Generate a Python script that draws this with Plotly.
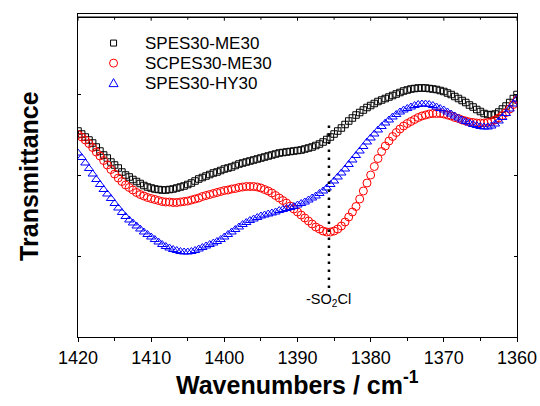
import plotly.graph_objects as go

# Wavenumbers (cm-1), 1420 -> 1360 in 0.5 steps
wavenumbers = [1420 - 0.5 * i for i in range(121)]

# Transmittance (arbitrary units)
spes30_me30 = [
    206,
    203, 200, 197, 194,
    190, 186, 182, 179,
    175, 172, 169, 165,
    162, 160, 157.5, 155.5,
    153.5, 151.5, 150, 149,
    148, 147.5, 147, 147,
    147.5, 148, 149, 150,
    151, 152.5, 154, 156,
    158, 159.5, 161, 162.5,
    164, 165, 166.5, 168,
    169, 170, 171.5, 173,
    174, 175, 176, 177,
    178, 179, 180, 181,
    182, 183, 184, 184.5,
    185, 185.5, 186, 186.5,
    187, 188, 189, 190,
    191.5, 193, 195, 197.5,
    200, 203, 206, 209,
    212.5, 216, 219, 222,
    224.5, 227, 229.5, 231.5,
    233.5, 235.5, 237, 238.5,
    240, 241.5, 243, 244.5,
    246, 247, 248, 248.5,
    249, 249, 249, 248.5,
    248, 247.5, 246.5, 245.5,
    244, 242.5, 240.5, 238.5,
    236.5, 234.5, 232, 230,
    227.5, 225.5, 223.5, 222.5,
    222, 223, 225, 228,
    231, 234.5, 238.5, 242.5,
]

scpes30_me30 = [
    202.5,
    200, 197, 193.5, 189.5,
    185, 181, 176.5, 172,
    167.5, 163, 159, 155.5,
    152, 149.5, 147, 144.5,
    142.5, 141, 139.5, 138.5,
    137.5, 136.5, 135.5, 135,
    135, 134.5, 134.5, 135,
    135.5, 136, 137, 138,
    139, 140.5, 141.5, 142.5,
    143.5, 144.5, 145.5, 146.5,
    147, 148, 148.5, 149.5,
    150, 150.5, 150.5, 150.5,
    150, 149, 147.5, 146,
    144, 141.5, 139, 136.5,
    134, 131, 128, 125,
    122, 119, 116, 113,
    110, 108, 106, 105,
    105, 106, 108, 111,
    115, 120, 125, 130.5,
    138, 146, 154, 162,
    170.5, 178.5, 185.5, 191,
    196, 200.5, 204.5, 208,
    211, 213.5, 215.5, 217.5,
    219.5, 221, 222, 223,
    223.5, 223.5, 223.5, 223,
    222, 221, 219.5, 218.5,
    217, 216, 215, 214.5,
    214, 214, 214, 214.5,
    215.5, 217, 219, 221.5,
    224.5, 228, 232.5, 237,
]

spes30_hy30 = [
    184,
    179.5, 174, 168.5, 163,
    157.5, 152.5, 147.5, 143,
    138.5, 133.5, 129, 124.5,
    120.5, 117, 114, 111,
    108, 105, 102.5, 100,
    97.5, 95, 92.5, 90.5,
    89, 87.5, 86.5, 85.5,
    85, 85, 85.5, 86.5,
    88, 89.5, 91, 92.5,
    94, 95.5, 97.5, 100,
    102.5, 105, 107.5, 110,
    112.5, 114.5, 116.5, 118,
    119.5, 121, 122, 123,
    124, 125, 126.5, 127.5,
    128.5, 129.5, 130.5, 132,
    133.5, 135, 137, 139,
    141, 143.5, 146, 149,
    152.5, 156, 160, 164,
    168, 172.5, 177, 181.5,
    186, 190.5, 195, 199,
    203, 207, 210.5, 214,
    217, 220, 222.5, 225,
    227, 228.5, 230, 231.5,
    232.5, 233, 233, 232.5,
    231.5, 230, 228.5, 227,
    225, 223, 221, 219,
    217, 215.5, 214, 212.5,
    211.5, 210.5, 210, 210,
    211, 213, 216, 219.5,
    223.5, 228, 233, 238,
]

series_names = ["SPES30-ME30", "SCPES30-ME30", "SPES30-HY30"]
series_colors = ["black", "#ff0000", "#0000ff"]
x_ticks = [1420, 1410, 1400, 1390, 1380, 1370, 1360]
x_minor = [1415, 1405, 1395, 1385, 1375, 1365]
band_position = 1385.7
band_label = "-SO<sub>2</sub>Cl"

FONT = "Liberation Sans, Arial, sans-serif"

fig = go.Figure()
fig.add_trace(go.Scatter(
    x=wavenumbers, y=spes30_me30, name=series_names[0], mode="markers",
    marker=dict(symbol="square-open", size=6.5, color=series_colors[0], line=dict(width=1)),
))
fig.add_trace(go.Scatter(
    x=wavenumbers, y=scpes30_me30, name=series_names[1], mode="markers",
    marker=dict(symbol="circle-open", size=8, color=series_colors[1], line=dict(width=1)),
))
fig.add_trace(go.Scatter(
    x=wavenumbers, y=spes30_hy30, name=series_names[2], mode="markers",
    marker=dict(symbol="triangle-up-open", size=8, color=series_colors[2], line=dict(width=1)),
))

# top frame line with inward ticks, drawn as shapes
fig.add_shape(type="line", xref="paper", yref="paper", x0=0, x1=1, y0=0.99, y1=0.99,
              line=dict(color="black", width=1.3), layer="above")
for tv in x_ticks:
    fig.add_shape(type="line", xref="x", yref="paper", ysizemode="pixel", yanchor=0.99,
                  x0=tv, x1=tv, y0=0, y1=-3.5, line=dict(color="black", width=1))
for tv in x_minor:
    fig.add_shape(type="line", xref="x", yref="paper", ysizemode="pixel", yanchor=0.99,
                  x0=tv, x1=tv, y0=0, y1=-2.5, line=dict(color="black", width=1))

# dotted marker line for the -SO2Cl band
fig.add_shape(type="line", xref="x", yref="y",
              x0=band_position, x1=band_position, y0=49, y1=214,
              line=dict(color="black", width=2.5, dash="2.5px,5.5px"))
fig.add_annotation(x=band_position, y=37, xref="x", yref="y", text=band_label,
                   showarrow=False, font=dict(family=FONT, size=14.5, color="black"))

# legend drawn by hand (compact row spacing like the reference)
leg_sym_x = 0.081
leg_txt_x = 0.149
leg_rows = [0.910, 0.848, 0.786]
for name, color, yy, kind in zip(series_names, series_colors, leg_rows,
                                 ["square", "circle", "triangle"]):
    common = dict(xref="paper", yref="paper", xsizemode="pixel", ysizemode="pixel",
                  xanchor=leg_sym_x, yanchor=yy, line=dict(color=color, width=1),
                  fillcolor="rgba(0,0,0,0)")
    if kind == "square":
        fig.add_shape(type="rect", x0=-3, x1=3, y0=-3, y1=3, **common)
    elif kind == "circle":
        fig.add_shape(type="circle", x0=-4, x1=4, y0=-4, y1=4, **common)
    else:
        fig.add_shape(type="path", path="M -4.5,-3.5 L 4.5,-3.5 L 0,4.5 Z", **common)
    fig.add_annotation(x=leg_txt_x, y=yy, xref="paper", yref="paper", text=name,
                       showarrow=False, xanchor="left", yanchor="middle",
                       font=dict(family=FONT, size=17, color="black"))

# axis titles
fig.add_annotation(x=0.5, y=-0.142, xref="paper", yref="paper",
                   text="<b>Wavenumbers / cm<sup>-1</sup></b>", showarrow=False,
                   xanchor="center", yanchor="middle",
                   font=dict(family=FONT, size=25, color="black"))
fig.add_annotation(x=-0.113, y=0.50, xref="paper", yref="paper",
                   text="<b>Transmittance</b>", showarrow=False, textangle=-90,
                   xanchor="center", yanchor="middle",
                   font=dict(family=FONT, size=25, color="black"))

fig.update_layout(
    width=540, height=406,
    margin=dict(l=77.5, r=23.3, t=14, b=69, autoexpand=False),
    paper_bgcolor="white", plot_bgcolor="white",
    font=dict(family=FONT, color="black"),
    showlegend=False,
    xaxis=dict(
        range=[1420, 1360], showgrid=False, zeroline=False, automargin=False,
        showline=True, linecolor="black", linewidth=1.2, mirror=True,
        tickmode="array", tickvals=x_ticks,
        ticks="outside", ticklen=4, tickwidth=1, tickcolor="black",
        minor=dict(tickmode="array", tickvals=x_minor,
                   ticks="outside", ticklen=2.5, tickcolor="black"),
        tickfont=dict(family=FONT, size=18),
    ),
    yaxis=dict(
        range=[0, 323], showgrid=False, zeroline=False, automargin=False,
        showline=True, linecolor="black", linewidth=1.2, mirror="ticks",
        tickmode="array", tickvals=[0, 80.75, 161.5, 242.25, 323],
        ticks="inside", ticklen=3, tickcolor="black", showticklabels=False,
    ),
)

fig.write_html(
    "out.html",
    config={"displayModeBar": False},
    post_script="document.body.style.margin='0px';document.body.style.overflow='hidden';",
)
